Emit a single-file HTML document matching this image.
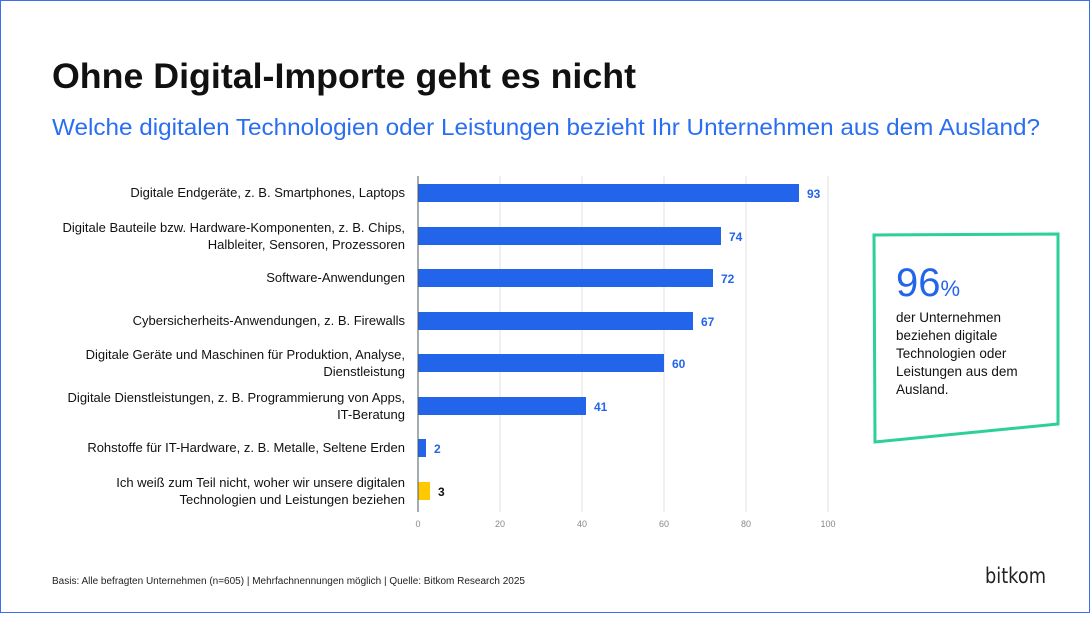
<!DOCTYPE html>
<html><head><meta charset="utf-8"><style>
body{margin:0;width:1090px;height:613px;overflow:hidden;background:#fff;font-family:"Liberation Sans","DejaVu Sans",sans-serif;}
</style></head><body>
<svg width="1090" height="613" xmlns="http://www.w3.org/2000/svg" font-family="Liberation Sans, DejaVu Sans, sans-serif">
<rect x="0.5" y="0.5" width="1089" height="612" fill="#fff" stroke="#3a6ff0" stroke-width="1"/>
<text x="52" y="88" font-size="35" font-weight="bold" fill="#111" textLength="584" lengthAdjust="spacingAndGlyphs">Ohne Digital-Importe geht es nicht</text>
<text x="52" y="135" font-size="23" fill="#2a6ef2" textLength="988" lengthAdjust="spacingAndGlyphs">Welche digitalen Technologien oder Leistungen bezieht Ihr Unternehmen aus dem Ausland?</text>
<g stroke="#e2e2e2" stroke-width="1">
<line x1="500" y1="176" x2="500" y2="512"/><line x1="582" y1="176" x2="582" y2="512"/>
<line x1="664" y1="176" x2="664" y2="512"/><line x1="746" y1="176" x2="746" y2="512"/>
<line x1="828" y1="176" x2="828" y2="512"/></g>
<g fill="#2264ea">
<rect x="418" y="184" width="381" height="18"/>
<rect x="418" y="227" width="303" height="18"/>
<rect x="418" y="269" width="295" height="18"/>
<rect x="418" y="312" width="275" height="18"/>
<rect x="418" y="354" width="246" height="18"/>
<rect x="418" y="397" width="168" height="18"/>
<rect x="418" y="439" width="8" height="18"/>
</g>
<rect x="418" y="482" width="12" height="18" fill="#ffc800"/>
<line x1="418" y1="176" x2="418" y2="512" stroke="#4a5a60" stroke-width="1"/>
<g font-size="12" font-weight="bold" fill="#2264ea">
<text x="807" y="198">93</text><text x="729" y="241">74</text><text x="721" y="283">72</text>
<text x="701" y="326">67</text><text x="672" y="368">60</text><text x="594" y="411">41</text>
<text x="434" y="453">2</text></g>
<text x="438" y="496" font-size="12" font-weight="bold" fill="#111">3</text>
<g font-size="13" fill="#111" text-anchor="end">
<text x="405" y="197">Digitale Endgeräte, z. B. Smartphones, Laptops</text>
<text x="405" y="232">Digitale Bauteile bzw. Hardware-Komponenten, z. B. Chips,</text>
<text x="405" y="249">Halbleiter, Sensoren, Prozessoren</text>
<text x="405" y="282">Software-Anwendungen</text>
<text x="405" y="325">Cybersicherheits-Anwendungen, z. B. Firewalls</text>
<text x="405" y="359">Digitale Geräte und Maschinen für Produktion, Analyse,</text>
<text x="405" y="376">Dienstleistung</text>
<text x="405" y="402">Digitale Dienstleistungen, z. B. Programmierung von Apps,</text>
<text x="405" y="419">IT-Beratung</text>
<text x="405" y="452">Rohstoffe für IT-Hardware, z. B. Metalle, Seltene Erden</text>
<text x="405" y="487">Ich weiß zum Teil nicht, woher wir unsere digitalen</text>
<text x="405" y="504">Technologien und Leistungen beziehen</text>
</g>
<g font-size="9" fill="#888" text-anchor="middle">
<text x="418" y="527">0</text><text x="500" y="527">20</text><text x="582" y="527">40</text>
<text x="664" y="527">60</text><text x="746" y="527">80</text><text x="828" y="527">100</text></g>
<polygon points="874,235 1058,234 1058,424 875,442" fill="none" stroke="#2dd096" stroke-width="3"/>
<text x="896" y="296" font-size="40" fill="#2264ea">96<tspan font-size="22">%</tspan></text>
<g font-size="13.5" fill="#111">
<text x="896" y="322">der Unternehmen</text><text x="896" y="340">beziehen digitale</text>
<text x="896" y="358">Technologien oder</text><text x="896" y="376">Leistungen aus dem</text>
<text x="896" y="394">Ausland.</text></g>
<text x="52" y="584" font-size="10" fill="#222">Basis: Alle befragten Unternehmen (n=605) | Mehrfachnennungen möglich | Quelle: Bitkom Research 2025</text>
<text x="985" y="583" font-size="21" fill="#222" font-family="DejaVu Sans, sans-serif" textLength="61" lengthAdjust="spacingAndGlyphs">bitkom</text>
</svg>
</body></html>
